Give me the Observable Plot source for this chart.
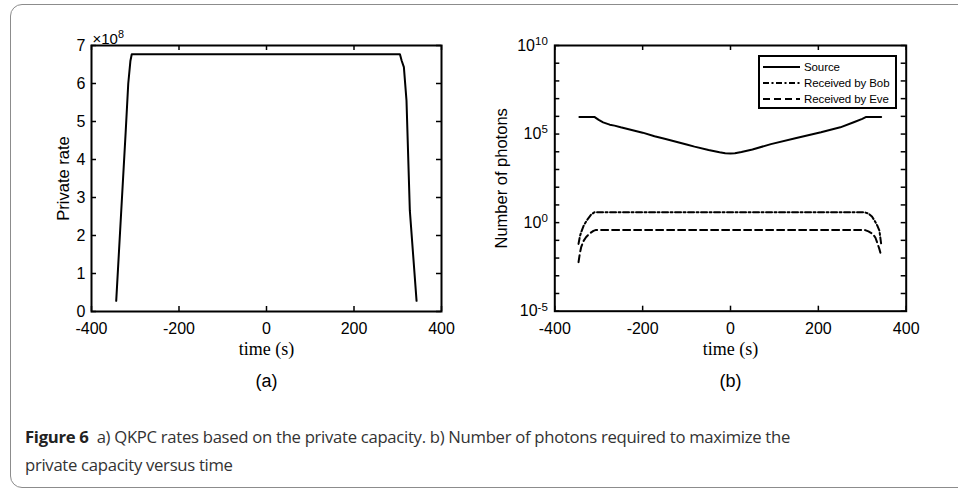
<!DOCTYPE html>
<html>
<head>
<meta charset="utf-8">
<script src="https://cdn.jsdelivr.net/npm/d3@7"></script>
<script src="https://cdn.jsdelivr.net/npm/@observablehq/plot@0.6"></script>
<style>
  html, body { margin: 0; padding: 0; background: #fff; }
  body { width: 958px; height: 489px; position: relative; overflow: hidden; font-family: "Liberation Sans", Arial, sans-serif; }
  #box { position: absolute; left: 10px; top: 4px; width: 1000px; height: 484px; border: 1.5px solid #8c8c8c; border-radius: 12px; box-sizing: border-box; }
  #left { position: absolute; left: 0; top: 0; }
  #right { position: absolute; left: 480px; top: 0; }
  #legend { position: absolute; left: 758px; top: 55px; width: 139px; height: 54px; border: 2px solid #000; background: #fff; box-sizing: border-box; }
  #legend .row { position: absolute; left: 3px; height: 16px; display: flex; align-items: center; font-size: 11.5px; letter-spacing: -0.1px; color: #000; white-space: nowrap; }
  #legend svg { margin-right: 4px; }
  #caption { position: absolute; left: 25px; top: 423px; font-family: "Open Sans", sans-serif; font-size: 16.7px; line-height: 28px; color: #333; letter-spacing: -0.3px; white-space: nowrap; }
  #caption b { color: #222; font-weight: 700; }
</style>
</head>
<body>
<div id="box"></div>
<div id="left"></div>
<div id="right"></div>
<div id="legend"></div>
<div id="caption"><b>Figure 6</b>&nbsp; a) QKPC rates based on the private capacity. b) Number of photons required to maximize the<br>private capacity versus time</div>
<script>
// ---------- data (a): private rate, in units of 1e8 ----------
const rateTime = [-343.5, -332, -322, -316, -311, -308, 0, 305, 309, 314, 320, 327.6, 343];
const rateE8   = [0.28, 2.65, 4.7, 6.0, 6.6, 6.77, 6.77, 6.77, 6.6, 6.43, 5.55, 2.66, 0.28];
const rateYTicks = [0, 1, 2, 3, 4, 5, 6, 7];
const timeTicks = [-400, -200, 0, 200, 400];

// ---------- data (b): number of photons ----------
const sourceTime = [-344, -310, -300, -290, -275, -264, -250, -200, -173, -150, -100, -82, -50, -25, -12, 0, 10, 25, 50, 92, 150, 206, 250, 282, 300, 309, 343];
const sourcePhotons = [9.3e5, 9.3e5, 6.3e5, 4.6e5, 3.4e5, 3.0e5, 2.4e5, 1.2e5, 7.6e4, 5.5e4, 2.6e4, 1.95e4, 1.26e4, 9.3e3, 8.3e3, 8.1e3, 8.3e3, 9.8e3, 1.35e4, 2.7e4, 6.0e4, 1.26e5, 2.4e5, 4.8e5, 7.2e5, 9.3e5, 9.3e5];
const bobTime = [-346, -343, -340, -334, -325, -317, -310, 0, 305, 314, 322, 328, 334, 339, 343];
const bobPhotons = [0.063, 0.16, 0.29, 0.7, 1.6, 2.9, 3.8, 3.8, 3.8, 3.3, 2.2, 1.3, 0.7, 0.35, 0.063];
const eveTime = [-346, -343, -340, -335, -329, -320, -312, -306, 0, 305, 314, 324, 330, 335, 339, 343];
const evePhotons = [0.0059, 0.018, 0.041, 0.089, 0.15, 0.25, 0.34, 0.39, 0.39, 0.39, 0.32, 0.23, 0.14, 0.063, 0.032, 0.014];
const decadeTicks = [1e-5, 1e-4, 1e-3, 1e-2, 1e-1, 1, 1e1, 1e2, 1e3, 1e4, 1e5, 1e6, 1e7, 1e8, 1e9, 1e10];
const labeledDecades = [1e-5, 1, 1e5, 1e10];
const decadeLabels = ["10^-5", "10^0", "10^5", "10^10"];
const seriesNames = ["Source", "Received by Bob", "Received by Eve"];
const seriesDash = [null, "6,2.5,2,2.5", "7,4"];

const sans = "Liberation Sans, Arial, Helvetica, sans-serif";
const serif = "Liberation Serif, DejaVu Serif, serif";

function superscripts(svg) {
  svg.querySelectorAll("text").forEach(t => {
    const s = t.textContent;
    const i = s.indexOf("^");
    if (i < 0) return;
    t.textContent = s.slice(0, i);
    const sp = document.createElementNS("http://www.w3.org/2000/svg", "tspan");
    sp.setAttribute("dy", "-0.5em");
    sp.style.fontSize = "72%";
    sp.textContent = s.slice(i + 1);
    t.appendChild(sp);
  });
}

// ---------- chart (a) ----------
{
  const W = 480, H = 400, mL = 91, mR = 39, mT = 45, mB = 89;
  const fW = W - mL - mR, fH = H - mT - mB;
  const rows = rateTime.map((t, i) => ({t, v: rateE8[i]}));
  const chart = Plot.plot({
    width: W, height: H, marginLeft: mL, marginRight: mR, marginTop: mT, marginBottom: mB,
    style: {fontFamily: sans, fontSize: "16px", color: "#000", background: "transparent", overflow: "visible"},
    x: {domain: [-400, 400]},
    y: {domain: [0, 7]},
    marks: [
      Plot.axisX({ticks: timeTicks, tickSize: 0, tickPadding: 11, tickFormat: d => String(d), label: null, fontSize: 16, fontFamily: sans}),
      Plot.axisY({ticks: rateYTicks, tickSize: 0, tickPadding: 6, tickFormat: d => String(d), label: null, fontSize: 16, fontFamily: sans}),
      Plot.tickX(timeTicks, {x: d => d, insetTop: fH - 5, strokeWidth: 1.5}),
      Plot.tickX(timeTicks, {x: d => d, insetBottom: fH - 5, strokeWidth: 1.5}),
      Plot.tickY(rateYTicks, {y: d => d, insetRight: fW - 5, strokeWidth: 1.5}),
      Plot.tickY(rateYTicks, {y: d => d, insetLeft: fW - 5, strokeWidth: 1.5}),
      Plot.line(rows, {x: "t", y: "v", stroke: "#000", strokeWidth: 2}),
      Plot.frame({stroke: "#000", strokeWidth: 2}),
      Plot.text(["×10^8"], {text: d => d, frameAnchor: "top-left", textAnchor: "start", lineAnchor: "bottom", dx: 1, dy: -2, fontSize: 15, fontFamily: sans}),
      Plot.text(["time (s)"], {text: d => d, frameAnchor: "bottom", textAnchor: "middle", lineAnchor: "middle", dy: 38, fontFamily: serif, fontSize: 18}),
      Plot.text(["(a)"], {text: d => d, frameAnchor: "bottom", textAnchor: "middle", lineAnchor: "middle", dy: 70, fontSize: 18, fontFamily: sans}),
      Plot.text(["Private rate"], {text: d => d, frameAnchor: "left", textAnchor: "middle", lineAnchor: "middle", rotate: -90, dx: -28, fontSize: 16.5, fontFamily: sans})
    ]
  });
  superscripts(chart);
  document.getElementById("left").appendChild(chart);
}

// ---------- chart (b) ----------
{
  const W = 478, H = 400, mL = 74.3, mR = 52.3, mT = 45, mB = 89.3;
  const fW = W - mL - mR, fH = H - mT - mB;
  const src = sourceTime.map((t, i) => ({t, v: sourcePhotons[i]}));
  const bob = bobTime.map((t, i) => ({t, v: bobPhotons[i]}));
  const eve = eveTime.map((t, i) => ({t, v: evePhotons[i]}));
  const chart = Plot.plot({
    width: W, height: H, marginLeft: mL, marginRight: mR, marginTop: mT, marginBottom: mB,
    style: {fontFamily: sans, fontSize: "16px", color: "#000", background: "transparent", overflow: "visible"},
    x: {domain: [-400, 400]},
    y: {type: "log", domain: [1e-5, 1e10]},
    marks: [
      Plot.axisX({ticks: timeTicks, tickSize: 0, tickPadding: 11, tickFormat: d => String(d), label: null, fontSize: 16, fontFamily: sans}),
      Plot.axisY({ticks: labeledDecades, tickSize: 0, tickPadding: 7, tickFormat: d => decadeLabels[labeledDecades.indexOf(d)], label: null, fontSize: 16, fontFamily: sans}),
      Plot.tickX(timeTicks, {x: d => d, insetTop: fH - 5, strokeWidth: 1.5}),
      Plot.tickX(timeTicks, {x: d => d, insetBottom: fH - 5, strokeWidth: 1.5}),
      Plot.tickY(decadeTicks, {y: d => d, insetRight: fW - 5, strokeWidth: 1.5}),
      Plot.tickY(decadeTicks, {y: d => d, insetLeft: fW - 5, strokeWidth: 1.5}),
      Plot.line(src, {x: "t", y: "v", stroke: "#000", strokeWidth: 2}),
      Plot.line(bob, {x: "t", y: "v", stroke: "#000", strokeWidth: 2, strokeDasharray: seriesDash[1]}),
      Plot.line(eve, {x: "t", y: "v", stroke: "#000", strokeWidth: 2, strokeDasharray: seriesDash[2]}),
      Plot.frame({stroke: "#000", strokeWidth: 2}),
      Plot.text(["time (s)"], {text: d => d, frameAnchor: "bottom", textAnchor: "middle", lineAnchor: "middle", dy: 38, fontFamily: serif, fontSize: 18}),
      Plot.text(["(b)"], {text: d => d, frameAnchor: "bottom", textAnchor: "middle", lineAnchor: "middle", dy: 70, fontSize: 18, fontFamily: sans}),
      Plot.text(["Number of photons"], {text: d => d, frameAnchor: "left", textAnchor: "middle", lineAnchor: "middle", rotate: -90, dx: -52.6, fontSize: 16.5, fontFamily: sans})
    ]
  });
  superscripts(chart);
  document.getElementById("right").appendChild(chart);
}

// ---------- legend ----------
{
  const lg = document.getElementById("legend");
  seriesNames.forEach((name, i) => {
    const row = document.createElement("div");
    row.className = "row";
    row.style.top = (i * 16 + 2) + "px";
    const ns = "http://www.w3.org/2000/svg";
    const s = document.createElementNS(ns, "svg");
    s.setAttribute("width", "37"); s.setAttribute("height", "16");
    const ln = document.createElementNS(ns, "line");
    ln.setAttribute("x1", "0"); ln.setAttribute("x2", "37");
    ln.setAttribute("y1", "8"); ln.setAttribute("y2", "8");
    ln.setAttribute("stroke", "#000"); ln.setAttribute("stroke-width", "2");
    if (seriesDash[i]) ln.setAttribute("stroke-dasharray", seriesDash[i]);
    s.appendChild(ln);
    row.appendChild(s);
    const tx = document.createElement("span");
    tx.textContent = name;
    row.appendChild(tx);
    lg.appendChild(row);
  });
}
</script>
</body>
</html>
